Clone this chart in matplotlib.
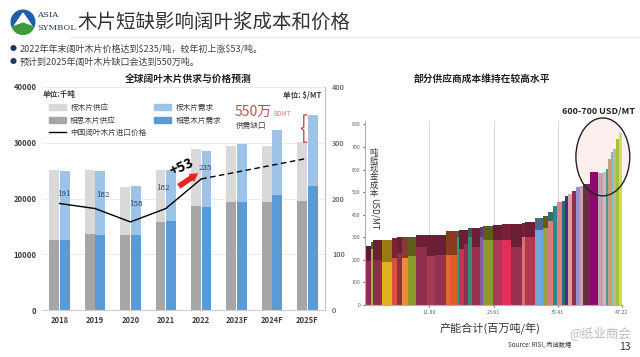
import matplotlib.pyplot as plt
import matplotlib.patches as mpatches
from matplotlib.lines import Line2D
import numpy as np

plt.rcParams['font.family'] = ['Noto Sans CJK SC', 'DejaVu Sans']

# ---- left chart data (千吨 / $/MT) ----
years = ['2018', '2019', '2020', '2021', '2022', '2023F', '2024F', '2025F']
acacia_supply = [12500, 13600, 13400, 15800, 18700, 19400, 19400, 19600]
euc_supply = [12700, 11500, 8700, 9300, 10100, 10100, 10100, 10500]
acacia_demand = [12500, 13500, 13400, 15900, 18400, 19400, 20600, 22300]
euc_demand = [12400, 11400, 8900, 9200, 10100, 10400, 11700, 12700]
price = [191, 182, 158, 182, 235]
forecast_years = ['2022', '2025F']
forecast_price = [235, 272]

# ---- right chart data: cost curve ----
capacity = [1.05, 0.48, 1.65, 1.73, 1.03, 0.92, 1.10, 1.41, 2.08, 1.41, 2.02, 0.73,
            1.34, 0.37, 0.86, 0.79, 0.62, 1.52, 0.61, 1.84, 1.54, 1.65, 2.02, 0.61,
            1.84, 1.52, 0.92, 0.92, 0.62, 0.92, 0.61, 0.61, 0.62, 0.79, 0.79, 0.55,
            1.23, 1.52, 0.92, 0.50, 0.42, 0.44, 0.48, 0.50, 0.50, 0.61]
cost_total = [260, 278, 287, 287, 295, 302, 302, 302, 308, 310, 311, 326,
              326, 326, 330, 330, 342, 342, 345, 350, 353, 357, 360, 362,
              367, 387, 394, 410, 440, 455, 460, 481, 491, 506, 521, 525,
              536, 588, 585, 590, 603, 647, 678, 692, 737, 760]
cost_base = [193, 250, 200, 190, 208, 230, 208, 216, 256, 216, 220, 220,
             220, 300, 250, 270, 300, 257, 300, 290, 290, 290, 257, 300,
             300, 330, 340, 370, 440, 455, 460, 481, 491, 506, 521, 525,
             536, 588, 585, 590, 603, 647, 678, 692, 737, 760]
cost_ticks = [11.80, 23.61, 35.41, 47.22]

base_colors = ['#8e2f4f', '#9ab54a', '#8e2f4f', '#e2b21d', '#d9503f', '#8e2f4f', '#f08a3c',
               '#8a9a2a', '#8e2f4f', '#a33a55', '#98304f', '#e06a3a', '#e05a2a', '#2a9a8a',
               '#d03050', '#8e2f4f', '#3a8a7a', '#98304f', '#8a5aa0', '#8d9a2d', '#a83a5a',
               '#e0305a', '#98304f', '#e07070', '#b03a4a', '#6fa8dc', '#9aa040', '#e07a7a',
               '#2a8a8a', '#e08080', '#2a6a6a', '#4b2a8a', '#e0a0a0', '#8e2f4f', '#9b8fd0',
               '#d0a0b0', '#6a2a4a', '#8b0a6a', '#c8a0b4', '#e0b0c0', '#4a9a90', '#c0a080',
               '#7ac0b0', '#d0b090', '#a0c040', '#d0e040']
top_colors = ['#5b1a30', '#5e5e1a', '#6b1f35', '#9c7a12', '#7a2232', '#6b1f35', '#8a3a30',
              '#5e5e1a', '#6b1f35', '#6b1f35', '#6b1f35', '#8a3a20', '#8a3a20', '#3a5a5a',
              '#6b1f35', '#6b1f35', '#3a5a5a', '#6b1f35', '#5a3a6a', '#5e5e1a', '#6b1f35',
              '#7a1f35', '#6b1f35', '#7a1f35', '#6b1f35', '#4a6a8a', '#5e5e1a', '#3a6a6a'] + ['#000000'] * 18

W, H = 640, 357
fig = plt.figure(figsize=(6.4, 3.57), dpi=100)
fig.patch.set_facecolor('white')


def fx(px):
    return px / W


def fy(py):
    return 1 - py / H


# ---- header ----
logo = fig.add_axes([fx(10), fy(37), fx(26), 30 / H])
logo.set_xlim(-1.1, 1.1)
logo.set_ylim(-1.1, 1.1)
logo.set_aspect('equal')
logo.axis('off')
logo.add_patch(mpatches.Circle((0, 0), 1.0, color='#1d5fae'))
logo.add_patch(mpatches.Polygon([(-0.75, -0.35), (0, 0.75), (0.75, -0.35)], color='white'))
logo.add_patch(mpatches.Wedge((0, -0.1), 0.95, 200, 340, color='#3f9a3a'))

fig.text(fx(37), fy(15), 'ASIA', fontsize=6, color='#1f3864', family='DejaVu Serif', va='center')
fig.text(fx(37), fy(28), 'SYMBOL', fontsize=6, color='#1f3864', family='DejaVu Serif', va='center')
fig.text(fx(77), fy(22), '木片短缺影响阔叶浆成本和价格', fontsize=14, color='#333333', va='center')
fig.add_artist(Line2D([fx(70), 1], [fy(37), fy(37)], color='#e6e6e6', lw=0.8))

fig.text(fx(10), fy(49), '●', fontsize=5, color='#1f3864', va='center')
fig.text(fx(20), fy(49), '2022年年末阔叶木片价格达到\\$235/吨，较年初上涨\\$53/吨。', fontsize=6.5, color='#404040', va='center')
fig.text(fx(10), fy(62), '●', fontsize=5, color='#1f3864', va='center')
fig.text(fx(20), fy(62), '预计到2025年阔叶木片缺口会达到550万吨。', fontsize=6.5, color='#404040', va='center')

# ---- left chart ----
ax = fig.add_axes([fx(42), fy(310), fx(325 - 42), (310 - 87) / H])
x = np.arange(len(years))
bw = 0.28
off = 0.15
ax.bar(x - off, acacia_supply, bw, color='#a6a6a6', label='相思木片供应', zorder=2)
ax.bar(x - off, euc_supply, bw, bottom=acacia_supply, color='#d9d9d9', label='桉木片供应', zorder=2)
ax.bar(x + off, acacia_demand, bw, color='#5b9bd5', label='相思木片需求', zorder=2)
ax.bar(x + off, euc_demand, bw, bottom=acacia_demand, color='#9dc3e6', label='桉木片需求', zorder=2)
ax.set_xlim(-0.5, 7.5)
ax.set_ylim(0, 40000)
ax.set_yticks([0, 10000, 20000, 30000, 40000])
ax.set_xticks(x)
ax.set_xticklabels(years, fontsize=5.5, fontweight='bold', color='#404040')
for lab in ax.get_yticklabels():
    lab.set_fontsize(5.5)
    lab.set_fontweight('bold')
    lab.set_color('#404040')
ax.tick_params(length=0, pad=4)
ax.grid(axis='y', color='#e8e8e8', lw=0.6, zorder=0)
for s in ['top', 'left', 'right']:
    ax.spines[s].set_visible(False)
ax.spines['bottom'].set_color('#d0d0d0')

ax2 = ax.twinx()
ax2.set_ylim(0, 400)
ax2.set_yticks([0, 100, 200, 300, 400])
ax2.tick_params(labelsize=5.5, length=0, pad=5, labelcolor='#404040')
for s in ['top', 'left', 'bottom']:
    ax2.spines[s].set_visible(False)
ax2.spines['right'].set_color('#c0c0c0')
px = [years.index(y) for y in years[:len(price)]]
ax2.plot(px, price, color='black', lw=1.0, zorder=4, label='中国阔叶木片进口价格')
fx_idx = [years.index(y) for y in forecast_years]
ax2.plot(fx_idx, forecast_price, color='black', lw=1.0, ls=(0, (4, 2.5)), zorder=4)
label_offsets = [(3, 4), (6, 7), (4, 10), (-2, 12), (3, 5)]
for i, (v, o) in enumerate(zip(price, label_offsets)):
    ax2.annotate(str(v), (i, v), xytext=o, textcoords='offset points', fontsize=5,
                 color='#1f3864', family='DejaVu Serif', ha='center', va='bottom')

handles = [mpatches.Patch(color='#d9d9d9'), mpatches.Patch(color='#a6a6a6'),
           Line2D([], [], color='black', lw=1.0),
           mpatches.Patch(color='#9dc3e6'), mpatches.Patch(color='#5b9bd5')]
labels = ['桉木片供应', '相思木片供应', '中国阔叶木片进口价格', '桉木片需求', '相思木片需求']
ax.legend(handles, labels, ncol=2, loc='upper left', bbox_to_anchor=(0.0, 0.955),
          fontsize=5.5, frameon=False, handlelength=2.2, handleheight=0.9,
          columnspacing=1.0, labelspacing=0.6, handletextpad=0.6, labelcolor='#404040')
fig.text(fx(43), fy(95), '单位:千吨', fontsize=5.5, fontweight='bold', color='#404040', va='center')
fig.text(fx(321), fy(95), '单位: $/MT', fontsize=5.5, fontweight='bold', color='#404040', va='center', ha='right')
fig.text(fx(188), fy(79), '全球阔叶木片供求与价格预测', fontsize=7, fontweight='bold', color='#222222', ha='center', va='center')

fig.text(fx(235), fy(112), '550万', fontsize=10, color='#c0504d', va='center')
fig.text(fx(273), fy(114), 'BDMT', fontsize=4.5, color='#d08080', va='center')
fig.text(fx(236), fy(126), '供需缺口', fontsize=5.5, color='#404040', va='center')

# brace for the 2025F gap
bx = 6.9
b_lo, b_hi = euc_supply[-1] + acacia_supply[-1], euc_demand[-1] + acacia_demand[-1]
b_mid = (b_lo + b_hi) / 2
ax.plot([bx + 0.08, bx, bx, bx - 0.07, bx, bx, bx + 0.08],
        [b_hi, b_hi, b_mid + 300, b_mid, b_mid - 300, b_lo, b_lo],
        color='#c0504d', lw=1.0, zorder=5, solid_joinstyle='round')

# +53 annotation and red arrow
ax.annotate('', xy=(3.98, 24800), xytext=(3.3, 21900),
            arrowprops=dict(arrowstyle='simple,head_length=0.6,head_width=0.7,tail_width=0.4',
                            color='#e8231f', lw=0), zorder=6)
ax.text(3.45, 25700, '+53', fontsize=10, fontweight='bold', rotation=25, ha='center', va='center', zorder=6)

# ---- right chart ----
axr = fig.add_axes([fx(365), fy(305), fx(622 - 365), (305 - 121) / H])
lefts = np.cumsum([0] + capacity[:-1])
axr.bar(lefts, cost_base, width=capacity, align='edge', color=base_colors, lw=0, zorder=2)
top_h = [t - b for t, b in zip(cost_total, cost_base)]
axr.bar(lefts, top_h, width=capacity, bottom=cost_base, align='edge', color=top_colors, lw=0, zorder=2)
axr.set_xlim(0, 47.22)
axr.set_ylim(0, 815)
axr.set_xticks(cost_ticks)
axr.set_xticklabels(['%.2f' % t for t in cost_ticks])
axr.set_yticks(range(0, 801, 100))
axr.tick_params(labelsize=3.8, length=1.5, pad=2, colors='#606060')
axr.grid(axis='x', color='#d8d8d8', lw=0.7, zorder=0)
for s in ['top', 'right']:
    axr.spines[s].set_visible(False)
axr.spines['left'].set_color('#b0b0b0')
axr.spines['bottom'].set_color('#b0b0b0')

ell_c, ell_w, ell_h = (43.7, 656), 9.9, 345
axr.add_patch(mpatches.Ellipse(ell_c, ell_w, ell_h, facecolor='#fcefee', edgecolor='none', zorder=1, clip_on=False))
axr.add_patch(mpatches.Ellipse(ell_c, ell_w, ell_h, facecolor='none', edgecolor='#222222', lw=1.0, zorder=5, clip_on=False))
fig.text(fx(598), fy(111), '600-700 USD/MT', fontsize=6.5, fontweight='bold', color='#222222', ha='center', va='center')
fig.text(fx(482), fy(79), '部分供应商成本维持在较高水平', fontsize=7, fontweight='bold', color='#222222', ha='center', va='center')

# vertical axis title: stacked CJK characters, then rotated latin part
for i, ch in enumerate('吨纸现金成本'):
    fig.text(fx(374), fy(152 + i * 8.3), ch, fontsize=6, color='#333333', ha='center', va='center')
fig.text(fx(374), fy(198), 'USD/MT', fontsize=6, color='#333333', ha='center', va='top', rotation=-90)
fig.text(fx(490), fy(328), '产能合计(百万吨/年)', fontsize=8, color='#333333', ha='center', va='center')
fig.text(fx(540), fy(345), 'Source: RISI, 丙诚数据', fontsize=4.5, style='italic', color='#333333', ha='center', va='center')
fig.text(fx(625), fy(347), '13', fontsize=7.5, color='#333333', ha='center', va='center')
fig.text(fx(600), fy(333), '@纸业商会', fontsize=9, color='#909090', alpha=0.6, ha='center', va='center')

fig.savefig('out.png', dpi=100, facecolor='white')
